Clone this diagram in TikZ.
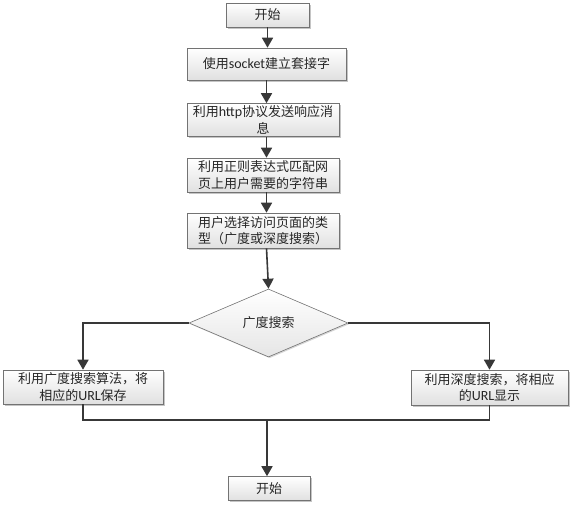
\documentclass[tikz,border=0pt]{standalone}
\usepackage{fontspec}
\setmainfont{Carlito}
\newfontfamily\cjk{Noto Sans CJK SC}
\newfontfamily\lat{Carlito}
\usetikzlibrary{arrows.meta,shapes.geometric,shadows}
\begin{document}
\begin{tikzpicture}[x=1pt,y=-1pt,
  boxstyle/.style={draw=black!55, line width=0.6pt, rectangle, inner sep=0pt,
    top color=white, bottom color=black!12, align=center,
    font=\cjk\fontsize{13}{16.5}\selectfont, text=black!85,
    drop shadow={shadow xshift=1.5pt, shadow yshift=-1.5pt, fill=black!45, opacity=0.5}},
  decstyle/.style={draw=black!55, line width=0.6pt, diamond, inner sep=0pt,
    top color=white, bottom color=black!10,
    drop shadow={shadow xshift=1.2pt, shadow yshift=-1.2pt, fill=black!40, opacity=0.4}},
  flow/.style={draw=black!78, line width=1.6pt},
  arr/.style={flow, -{Triangle[length=10pt,width=11pt]}}
]
\useasboundingbox (0,0) rectangle (575,507);
\node[boxstyle, minimum width=83, minimum height=24] (b1) at (267.5,15) {开始};
\node[boxstyle, minimum width=159, minimum height=32] (b2) at (266.5,64) {使用{\lat\fontsize{14}{16.5}\selectfont socket}建立套接字};
\node[boxstyle, minimum width=152, minimum height=33] (b3) at (263,120) {利用{\lat\fontsize{14}{16.5}\selectfont http}协议发送响应消\\息};
\node[boxstyle, minimum width=152, minimum height=34] (b4) at (263,175) {利用正则表达式匹配网\\页上用户需要的字符串};
\node[boxstyle, minimum width=152, minimum height=35] (b5) at (263,230.5) {用户选择访问页面的类\\型（广度或深度搜索）};
\node[decstyle, minimum width=159, minimum height=68] (d) at (268.5,323) {};
\node[font=\cjk\fontsize{13}{16.5}\selectfont, text=black!85] (dt) at (268.5,323) {广度搜索};
\node[boxstyle, minimum width=160, minimum height=34] (lb) at (83,387) {利用广度搜索算法，将\\相应的{\lat\fontsize{14}{16.5}\selectfont URL}保存};
\node[boxstyle, minimum width=157, minimum height=35] (rb) at (489.5,387.5) {利用深度搜索，将相应\\的{\lat\fontsize{14}{16.5}\selectfont URL}显示};
\node[boxstyle, minimum width=82, minimum height=24] (e) at (269,488.5) {开始};
\coordinate (m) at (267,420);
\draw[arr] (b1.south) -- (b1.south |- b2.north);
\draw[arr] (b2.south) -- (b2.south |- b3.north);
\draw[arr] (b2.south |- b3.south) -- (b2.south |- b4.north);
\draw[arr] (b2.south |- b4.south) -- (b2.south |- b5.north);
\draw[arr] (b2.south |- b5.south) -- (d.north);
\draw[arr] (d.west) -| (lb.north);
\draw[arr] (d.east) -| (rb.north);
\draw[flow] (lb.south) |- (m) -| (rb.south);
\draw[arr] (m) -- (m |- e.north);
\end{tikzpicture}
\end{document}
